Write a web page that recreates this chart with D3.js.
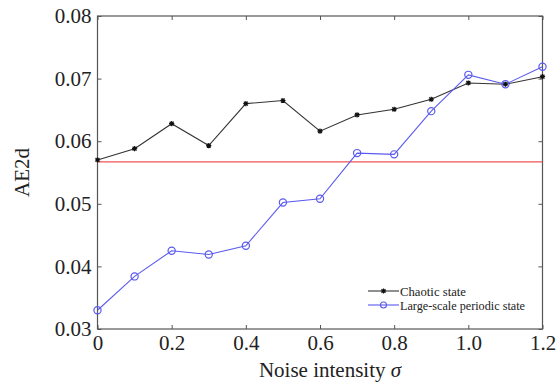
<!DOCTYPE html>
<html><head><meta charset="utf-8">
<script src="https://cdn.jsdelivr.net/npm/d3@7"></script>
<style>body{margin:0;background:#fff}svg{display:block}</style>
</head><body>
<svg id="c" width="556" height="383"></svg>
<script>
const xValues = [0,0.1,0.2,0.3,0.4,0.5,0.6,0.7,0.8,0.9,1.0,1.1,1.2];
const chaotic = [0.0570,0.0588,0.0628,0.0593,0.0660,0.0665,0.0616,0.0642,0.0651,0.0667,0.0693,0.0691,0.0703];
const periodic = [0.0330,0.0384,0.0425,0.0419,0.0433,0.0502,0.0508,0.0581,0.0579,0.0648,0.0706,0.0691,0.0719];
const threshold = 0.0567;
const xTicks = [0,0.2,0.4,0.6,0.8,1.0,1.2];
const xTickLabels = ["0","0.2","0.4","0.6","0.8","1.0","1.2"];
const yTicks = [0.03,0.04,0.05,0.06,0.07,0.08];
const yTickLabels = ["0.03","0.04","0.05","0.06","0.07","0.08"];
const seriesNames = ["Chaotic state","Large-scale periodic state"];

const svg = d3.select("#c");
const L=97.5, R=542.5, T=16, B=329;
const x = d3.scaleLinear().domain([0,1.2]).range([L,R]);
const y = d3.scaleLinear().domain([0.03,0.08]).range([B,T]);
const axisCol = "#555";
const font = "'Liberation Serif','Times New Roman',serif";
const fs = 21;

// box
svg.append("rect").attr("x",L).attr("y",T).attr("width",R-L).attr("height",B-T)
  .attr("fill","none").attr("stroke",axisCol).attr("stroke-width",1.2);

// axes
const gx = svg.append("g").attr("transform",`translate(0,${B})`)
  .call(d3.axisBottom(x).tickValues(xTicks).tickFormat((d,i)=>xTickLabels[i]).tickSizeInner(-4).tickSizeOuter(0).tickPadding(9));
const gxt = svg.append("g").attr("transform",`translate(0,${T})`)
  .call(d3.axisTop(x).tickValues(xTicks).tickFormat("").tickSizeInner(-4).tickSizeOuter(0));
const gy = svg.append("g").attr("transform",`translate(${L},0)`)
  .call(d3.axisLeft(y).tickValues(yTicks).tickFormat((d,i)=>yTickLabels[i]).tickSizeInner(-4).tickSizeOuter(0).tickPadding(6));
const gyr = svg.append("g").attr("transform",`translate(${R},0)`)
  .call(d3.axisRight(y).tickValues(yTicks).tickFormat("").tickSizeInner(-4).tickSizeOuter(0));
[gx,gxt,gy,gyr].forEach(g=>{
  g.select(".domain").remove();
  g.selectAll("line").attr("stroke",axisCol);
  g.selectAll("text").attr("font-family",font).attr("font-size",fs).attr("fill","#222");
});
gx.selectAll("text").attr("dy","0.55em");

// threshold
svg.append("line").attr("x1",x(0)).attr("x2",x(1.2)).attr("y1",y(threshold)).attr("y2",y(threshold))
  .attr("stroke","#ee5555").attr("stroke-width",1.3);

const line = d3.line().x((d,i)=>x(xValues[i])).y(d=>y(d));
const blue = "#5a5af0", black = "#333";
svg.append("path").datum(chaotic).attr("d",line).attr("fill","none").attr("stroke",black).attr("stroke-width",1.1);
svg.append("path").datum(periodic).attr("d",line).attr("fill","none").attr("stroke",blue).attr("stroke-width",1.1);

function star(g,cx,cy){
  const s=2.6;
  g.append("path").attr("d",`M${cx-s},${cy}L${cx+s},${cy}M${cx},${cy-s}L${cx},${cy+s}M${cx-s*0.75},${cy-s*0.75}L${cx+s*0.75},${cy+s*0.75}M${cx-s*0.75},${cy+s*0.75}L${cx+s*0.75},${cy-s*0.75}`)
    .attr("stroke","#111").attr("stroke-width",1.2);
}
const gs = svg.append("g");
chaotic.forEach((d,i)=>star(gs,x(xValues[i]),y(d)));
svg.append("g").selectAll("circle").data(periodic).join("circle")
  .attr("cx",(d,i)=>x(xValues[i])).attr("cy",d=>y(d)).attr("r",3.6)
  .attr("fill","none").attr("stroke",blue).attr("stroke-width",1.2);

// labels
svg.append("text").attr("x",330).attr("y",377).attr("text-anchor","middle")
  .attr("font-family",font).attr("font-size",fs).attr("fill","#222")
  .html("Noise intensity <tspan font-style='italic'>σ</tspan>");
svg.append("text").attr("transform",`translate(29,${(T+B)/2}) rotate(-90)`).attr("text-anchor","middle")
  .attr("font-family",font).attr("font-size",fs).attr("fill","#222").text("AE2d");

// legend
const lg = svg.append("g");
const lx1=368, lx2=399, rows=[291,305];
lg.append("line").attr("x1",lx1).attr("x2",lx2).attr("y1",rows[0]).attr("y2",rows[0]).attr("stroke",black).attr("stroke-width",1.1);
star(lg,(lx1+lx2)/2,rows[0]);
lg.append("line").attr("x1",lx1).attr("x2",lx2).attr("y1",rows[1]).attr("y2",rows[1]).attr("stroke",blue).attr("stroke-width",1.1);
lg.append("circle").attr("cx",(lx1+lx2)/2).attr("cy",rows[1]).attr("r",3).attr("fill","none").attr("stroke",blue).attr("stroke-width",1.1);
lg.append("text").attr("x",400).attr("y",rows[0]).attr("dy","0.35em").attr("font-family",font).attr("font-size",13).attr("fill","#222")
  .attr("textLength",66).attr("lengthAdjust","spacingAndGlyphs").text(seriesNames[0]);
lg.append("text").attr("x",400).attr("y",rows[1]).attr("dy","0.35em").attr("font-family",font).attr("font-size",13).attr("fill","#222")
  .attr("textLength",125).attr("lengthAdjust","spacingAndGlyphs").text(seriesNames[1]);
</script>
</body></html>
